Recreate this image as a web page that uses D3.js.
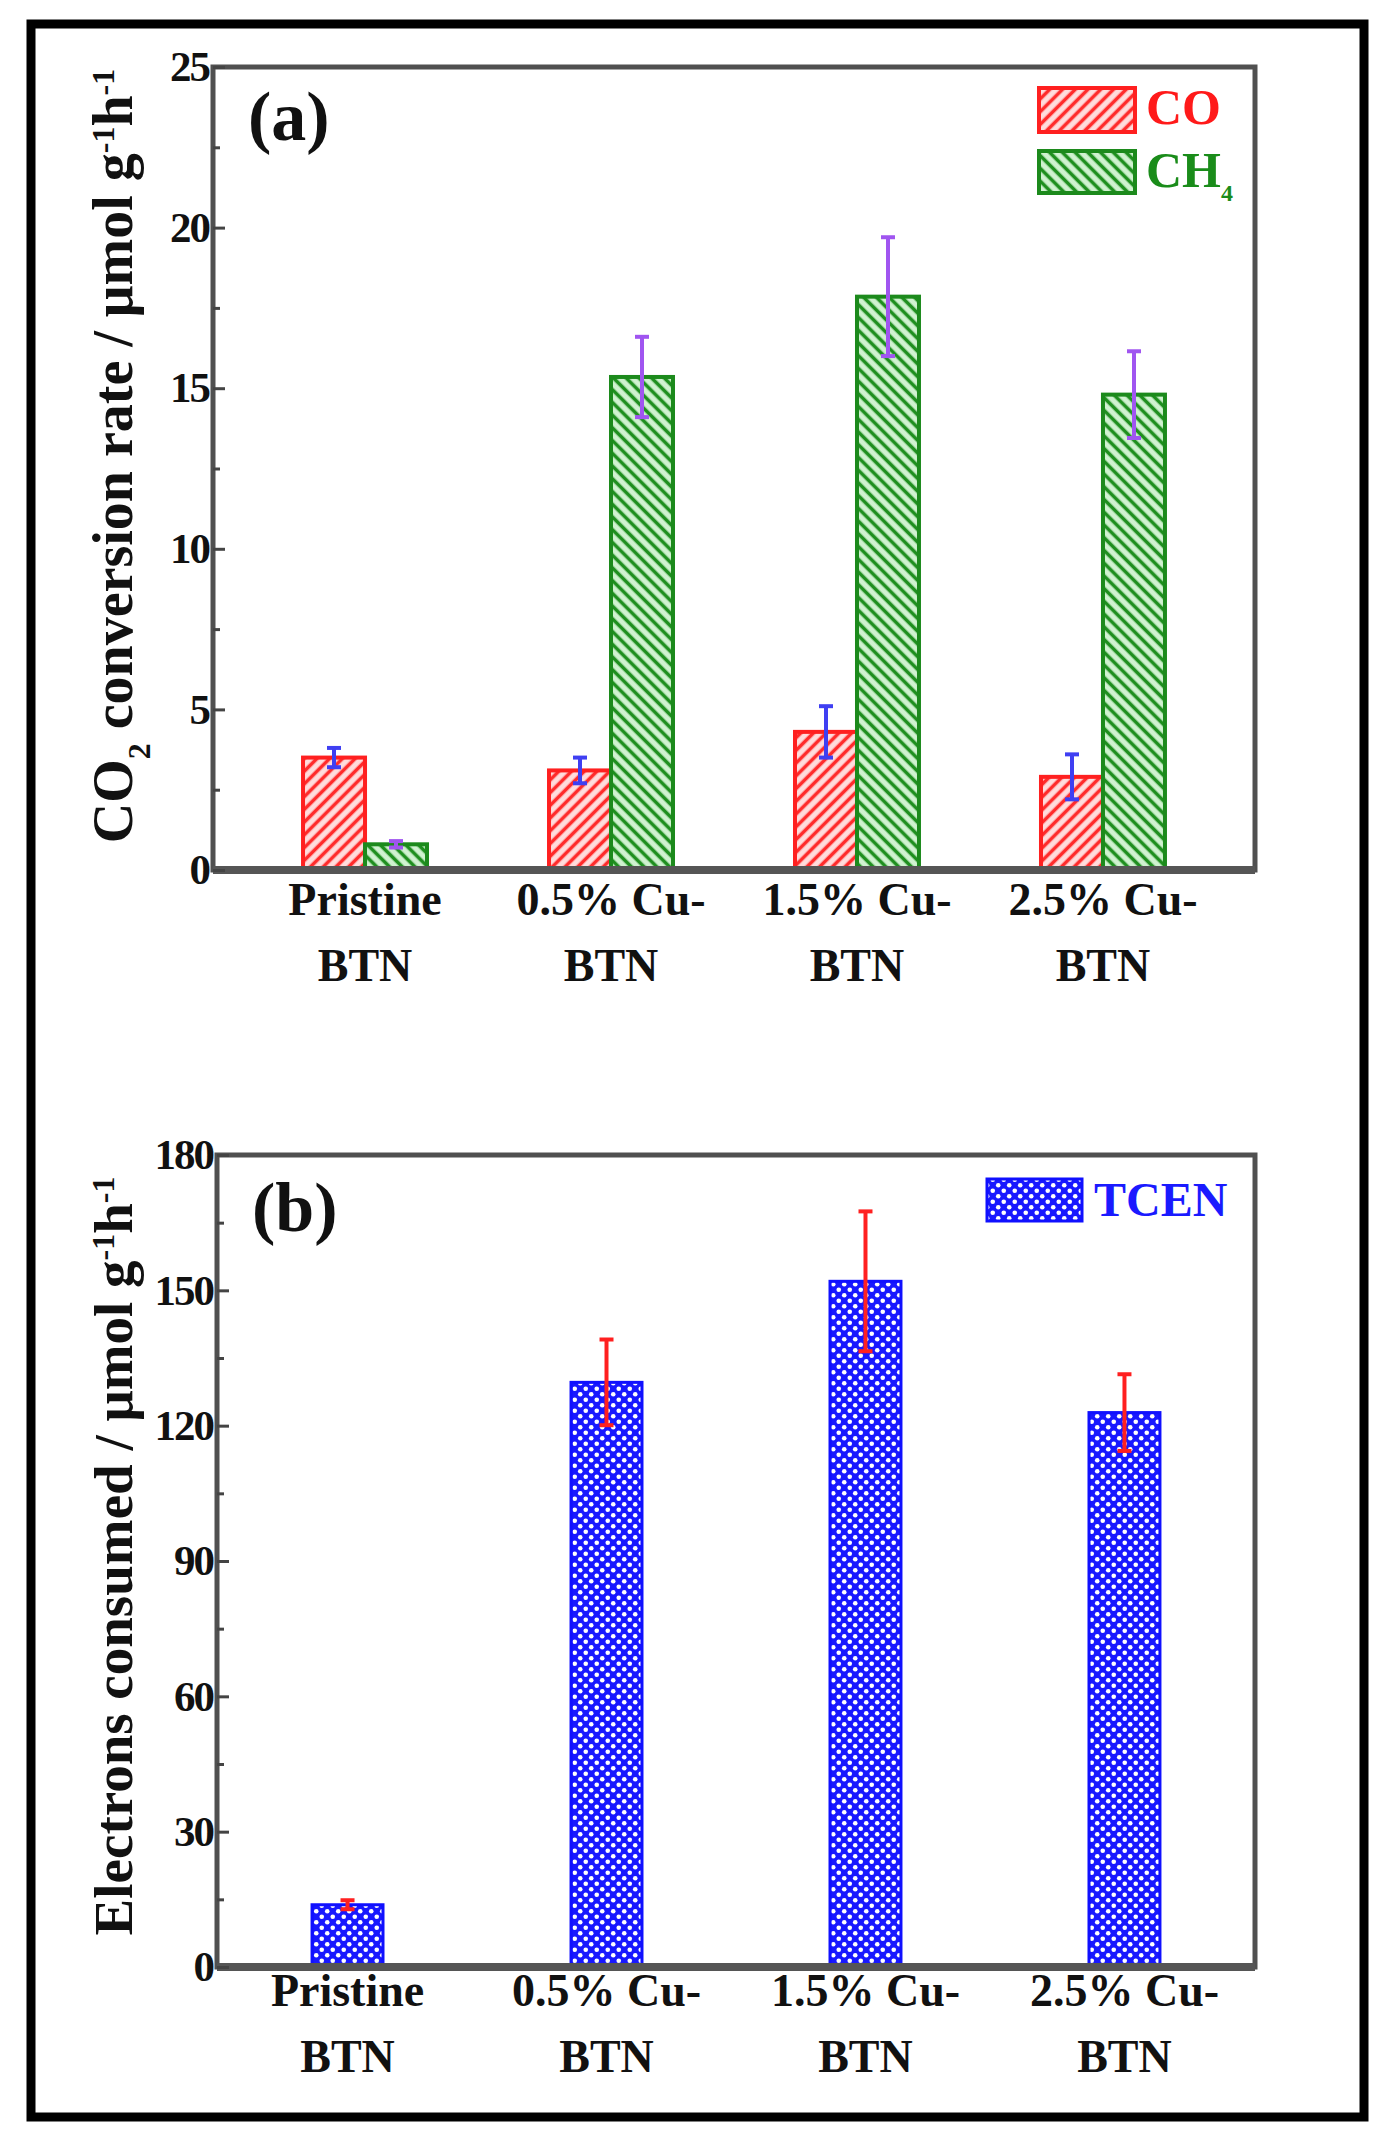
<!DOCTYPE html>
<html>
<head>
<meta charset="utf-8">
<script src="https://cdn.jsdelivr.net/npm/d3@7"></script>
<style>
body { margin: 0; background: #fff; }
text { font-family: "Liberation Serif", "Times New Roman", serif; font-weight: bold; }
</style>
</head>
<body>
<div id="chart"></div>
<script>
var categories = ["Pristine BTN", "0.5% Cu-BTN", "1.5% Cu-BTN", "2.5% Cu-BTN"];
var catLines = [["Pristine", "BTN"], ["0.5% Cu-", "BTN"], ["1.5% Cu-", "BTN"], ["2.5% Cu-", "BTN"]];
var coRate = [3.5, 3.1, 4.3, 2.9];
var coErr = [0.3, 0.4, 0.8, 0.7];
var ch4Rate = [0.8, 15.35, 17.85, 14.8];
var ch4Err = [0.1, 1.25, 1.85, 1.35];
var tcen = [13.8, 129.6, 152.0, 122.9];
var tcenErr = [1.0, 9.5, 15.5, 8.5];
var ticksA = [0, 5, 10, 15, 20, 25], minorA = [2.5, 7.5, 12.5, 17.5, 22.5];
var ticksB = [0, 30, 60, 90, 120, 150, 180], minorB = [15, 45, 75, 105, 135, 165];

var W = 1387, H = 2132;
var svg = d3.select("#chart").append("svg").attr("width", W).attr("height", H);
var defs = svg.append("defs");

// diagonal hatch, dir 45 = "/" , -45 = "\"
function hatch(id, color, bg, dir) {
	var p = defs.append("pattern").attr("id", id)
		.attr("patternUnits", "userSpaceOnUse")
		.attr("width", 9).attr("height", 9)
		.attr("patternTransform", "rotate(" + dir + ")");
	p.append("rect").attr("width", 9).attr("height", 9).attr("fill", bg);
	p.append("line").attr("x1", 4.5).attr("x2", 4.5).attr("y1", 0).attr("y2", 9)
		.attr("stroke", color).attr("stroke-width", 3.6);
}
hatch("hCO", "#ff2b2b", "#ffdcdc", 45);
hatch("hCH4", "#1f8f1f", "#d0f2d0", -45);

var dots = defs.append("pattern").attr("id", "dots")
	.attr("patternUnits", "userSpaceOnUse").attr("width", 11).attr("height", 11);
dots.append("rect").attr("width", 11).attr("height", 11).attr("fill", "#1818ff");
dots.append("circle").attr("cx", 2.75).attr("cy", 2.75).attr("r", 2.3).attr("fill", "#fff");
dots.append("circle").attr("cx", 8.25).attr("cy", 8.25).attr("r", 2.3).attr("fill", "#fff");

// outer box
svg.append("rect").attr("x", 31).attr("y", 24).attr("width", 1333).attr("height", 2093)
	.attr("fill", "none").attr("stroke", "#000").attr("stroke-width", 9);

function yAxis(g, y, major, minor) {
	g.append("g").call(d3.axisLeft(y).tickValues(minor).tickSizeInner(-7).tickSizeOuter(0).tickFormat(""))
		.call(function(s) { s.select(".domain").remove(); })
		.selectAll("line").attr("stroke", "#444").attr("stroke-width", 3);
	var ax = g.append("g").call(d3.axisLeft(y).tickValues(major).tickSizeInner(-12).tickSizeOuter(0).tickPadding(4));
	ax.select(".domain").remove();
	ax.selectAll("line").attr("stroke", "#444").attr("stroke-width", 3);
	ax.selectAll("text").attr("font-size", 43).attr("fill", "#111").attr("letter-spacing", -2);
}

function frame(g, x0, y0, x1, y1) {
	g.append("rect").attr("x", x0).attr("y", y0).attr("width", x1 - x0).attr("height", y1 - y0)
		.attr("fill", "none").attr("stroke", "#505050").attr("stroke-width", 5);
	g.append("line").attr("x1", x0).attr("x2", x1).attr("y1", y1).attr("y2", y1)
		.attr("stroke", "#555").attr("stroke-width", 8);
}

function catLabels(g, x, baseY) {
	var t = g.selectAll(".cat").data(categories).enter().append("text")
		.attr("class", "cat")
		.attr("text-anchor", "middle")
		.attr("font-size", 46).attr("fill", "#111")
		.attr("x", function(d) { return x(d) + x.bandwidth() / 2; })
		.attr("y", baseY);
	t.append("tspan").text(function(d, i) { return catLines[i][0]; });
	t.append("tspan")
		.attr("x", function(d) { return x(d) + x.bandwidth() / 2; })
		.attr("dy", 66)
		.text(function(d, i) { return catLines[i][1]; });
}

function errBars(g, cx, y, vals, errs, color) {
	var e = g.selectAll(null).data(vals).enter().append("g")
		.attr("stroke", color).attr("stroke-width", 4);
	e.append("line")
		.attr("x1", function(d, i) { return cx(i); }).attr("x2", function(d, i) { return cx(i); })
		.attr("y1", function(d, i) { return y(d - errs[i]); })
		.attr("y2", function(d, i) { return y(d + errs[i]); });
	[-1, 1].forEach(function(s) {
		e.append("line")
			.attr("x1", function(d, i) { return cx(i) - 7; }).attr("x2", function(d, i) { return cx(i) + 7; })
			.attr("y1", function(d, i) { return y(d + s * errs[i]); })
			.attr("y2", function(d, i) { return y(d + s * errs[i]); });
	});
}

function yTitle(g, x, y, size, parts) {
	var t = g.append("text").attr("text-anchor", "middle").attr("font-size", size).attr("fill", "#111")
		.attr("transform", "translate(" + x + "," + y + ") rotate(-90)");
	parts.forEach(function(p) {
		var s = t.append("tspan").text(p[0]);
		if (p[1] == "sub") s.attr("baseline-shift", "sub").attr("font-size", 32);
		if (p[1] == "sup") s.attr("baseline-shift", "super").attr("font-size", 32);
	});
}

// ---- panel (a) ----
var a = svg.append("g");
var xa = d3.scaleBand().domain(categories).range([213, 1255]).paddingInner(0.496).paddingOuter(0.366);
var xs = d3.scaleBand().domain(["CO", "CH4"]).range([0, xa.bandwidth()]);
var ya = d3.scaleLinear().domain([0, 25]).range([870, 67]);

a.selectAll(".co").data(coRate).enter().append("rect")
	.attr("x", function(d, i) { return xa(categories[i]) + xs("CO"); })
	.attr("y", function(d) { return ya(d); })
	.attr("width", xs.bandwidth())
	.attr("height", function(d) { return ya(0) - ya(d); })
	.attr("fill", "url(#hCO)").attr("stroke", "#ff2020").attr("stroke-width", 4);
a.selectAll(".ch4").data(ch4Rate).enter().append("rect")
	.attr("x", function(d, i) { return xa(categories[i]) + xs("CH4"); })
	.attr("y", function(d) { return ya(d); })
	.attr("width", xs.bandwidth())
	.attr("height", function(d) { return ya(0) - ya(d); })
	.attr("fill", "url(#hCH4)").attr("stroke", "#1c8a1c").attr("stroke-width", 4);

errBars(a, function(i) { return xa(categories[i]) + xs("CO") + xs.bandwidth() / 2; }, ya, coRate, coErr, "#3f3ff2");
errBars(a, function(i) { return xa(categories[i]) + xs("CH4") + xs.bandwidth() / 2; }, ya, ch4Rate, ch4Err, "#a055f0");

frame(a, 213, 67, 1255, 870);
a.append("g").attr("transform", "translate(213,0)").call(function(g) { yAxis(g, ya, ticksA, minorA); });
catLabels(a, xa, 915);
yTitle(a, 132, 456, 56, [["CO"], ["2", "sub"], [" conversion rate / \u03bcmol g"], ["-1", "sup"], ["h"], ["-1", "sup"]]);
a.append("text").attr("x", 248).attr("y", 140).attr("font-size", 70).attr("fill", "#111").text("(a)");

// legend (a)
a.append("rect").attr("x", 1039).attr("y", 88).attr("width", 96).attr("height", 44)
	.attr("fill", "url(#hCO)").attr("stroke", "#ff2020").attr("stroke-width", 4);
a.append("text").attr("x", 1146).attr("y", 124).attr("font-size", 50).attr("fill", "#ff1a1a").text("CO");
a.append("rect").attr("x", 1039).attr("y", 151).attr("width", 96).attr("height", 42)
	.attr("fill", "url(#hCH4)").attr("stroke", "#1c8a1c").attr("stroke-width", 4);
var lg = a.append("text").attr("x", 1146).attr("y", 187).attr("font-size", 50).attr("fill", "#1a8c1a");
lg.append("tspan").text("CH");
lg.append("tspan").attr("font-size", 24).attr("dy", 14).text("4");

// ---- panel (b) ----
var b = svg.append("g");
var xb = d3.scaleBand().domain(categories).range([217, 1255]).paddingInner(0.726).paddingOuter(0.367);
var yb = d3.scaleLinear().domain([0, 180]).range([1967, 1155]);

b.selectAll(".tc").data(tcen).enter().append("rect")
	.attr("x", function(d, i) { return xb(categories[i]); })
	.attr("y", function(d) { return yb(d); })
	.attr("width", xb.bandwidth())
	.attr("height", function(d) { return yb(0) - yb(d); })
	.attr("fill", "url(#dots)").attr("stroke", "#1010ff").attr("stroke-width", 3);

errBars(b, function(i) { return xb(categories[i]) + xb.bandwidth() / 2; }, yb, tcen, tcenErr, "#ff2020");

frame(b, 217, 1155, 1255, 1967);
b.append("g").attr("transform", "translate(217,0)").call(function(g) { yAxis(g, yb, ticksB, minorB); });
catLabels(b, xb, 2006);
yTitle(b, 132, 1556, 55, [["Electrons consumed / \u03bcmol g"], ["-1", "sup"], ["h"], ["-1", "sup"]]);
b.append("text").attr("x", 252).attr("y", 1231).attr("font-size", 70).attr("fill", "#111").text("(b)");

b.append("rect").attr("x", 987).attr("y", 1179).attr("width", 95).attr("height", 42)
	.attr("fill", "url(#dots)").attr("stroke", "#1010ff").attr("stroke-width", 3);
b.append("text").attr("x", 1094).attr("y", 1216).attr("font-size", 48).attr("fill", "#1a1aff").text("TCEN");
</script>
</body>
</html>
